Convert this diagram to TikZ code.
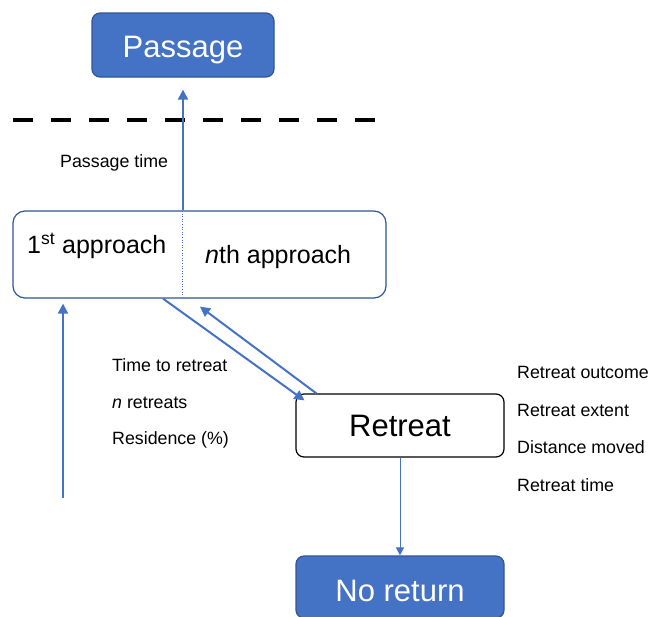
\documentclass[tikz,border=0pt]{standalone}
\usepackage{fontspec}
\setmainfont{Liberation Sans}
\usetikzlibrary{arrows.meta,positioning}

\definecolor{boxblue}{HTML}{4472C4}
\definecolor{edgeblue}{HTML}{2F5597}

\tikzset{
  outcome/.style={draw=edgeblue, fill=boxblue, text=white, rounded corners=8pt,
    line width=1.2pt, inner sep=0pt, text depth=0pt, font=\fontsize{31}{36}\selectfont},
  stagebox/.style={draw=black, fill=white, rounded corners=8pt,
    line width=1.2pt, inner sep=0pt, font=\fontsize{31}{36}\selectfont},
  measure/.style={anchor=west, inner sep=0pt, font=\fontsize{17.8}{20}\selectfont},
  flow/.style={draw=boxblue, line width=2pt, -{Triangle[width=10pt,length=10pt]}},
}

\begin{document}
\begin{tikzpicture}[x=1pt, y=-1pt]
  \useasboundingbox (0,0) rectangle (650,616);

  % end states and the two stages
  \node[outcome, text height=24pt, minimum width=182pt, minimum height=64pt] (passage) at (183,45) {Passage};
  \node[stagebox, draw=edgeblue, rounded corners=12pt,
        minimum width=373pt, minimum height=87pt] (approach) at (199.5,254.5) {};
  \node[stagebox, minimum width=208pt, minimum height=63pt] (retreat) at (400,425.5) {Retreat};
  \node[outcome, text height=28pt, minimum width=208pt, minimum height=62pt] (noreturn) at (400,587) {No return};

  % split of the approach box
  \draw[boxblue, dotted, line width=0.6pt] (182,211) -- (182,298);
  \node[measure, font=\fontsize{25}{30}\selectfont] (first) at (27,246) {1\textsuperscript{st} approach};
  \node[measure, font=\fontsize{25}{30}\selectfont] (nth) at (205,257) {\textit{n}th approach};

  % barrier line
  \draw[line width=4pt, dash pattern=on 20pt off 18pt] (13,120) -- (375,120);

  % connectors
  \coordinate (arrival) at (63,498);
  \draw[flow, shorten >=5pt] (arrival) -- (arrival |- approach.south);
  \draw[flow, shorten >=12pt] (approach.north -| passage.south) -- (passage.south);
  \draw[flow] ([xshift=-36.5pt]approach.south) -- ([xshift=9pt,yshift=-7pt]retreat.north west);
  \draw[flow] ([xshift=21pt]retreat.north west) -- ([xshift=0.5pt,yshift=-8pt]approach.south);
  \draw[flow, line width=1pt, -{Triangle[width=8pt,length=8pt]}] (retreat.south) -- (noreturn.north);

  % measures
  \node[measure] (ptime) at (60,163) {Passage time};
  \node[measure] (tretreat) at (112,365) {Time to retreat};
  \node[measure] (nretreat) at (112,403) {\textit{n} retreats};
  \node[measure] (residence) at (112,440) {Residence (\%)};
  \node[measure] (outcome) at (517,372) {Retreat outcome};
  \node[measure] (extent) at (517,410) {Retreat extent};
  \node[measure] (distance) at (517,447) {Distance moved};
  \node[measure] (rtime) at (517,485) {Retreat time};
\end{tikzpicture}
\end{document}
